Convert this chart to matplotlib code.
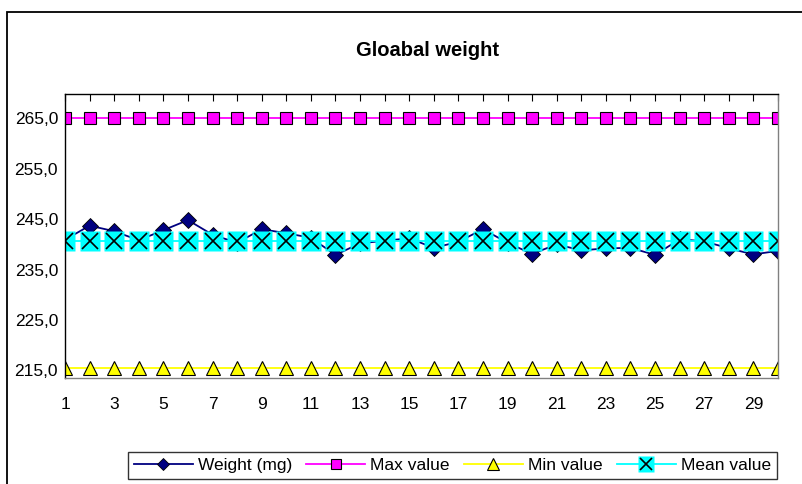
import matplotlib
matplotlib.use("Agg")
import matplotlib.pyplot as plt
from matplotlib.patches import Rectangle
from matplotlib.legend_handler import HandlerTuple

plt.rcParams["font.family"] = ["Liberation Sans", "DejaVu Sans"]

# data
samples = list(range(1, 31))
weight = [240.9, 243.7, 242.6, 240.8, 242.8, 244.8, 241.9, 240.3, 243.0, 242.2,
          241.3, 237.9, 240.2, 240.7, 241.2, 239.3, 240.5, 243.0, 240.3, 238.1,
          240.0, 238.8, 239.2, 239.3, 237.9, 241.0, 240.6, 239.2, 238.0, 238.7]
max_value = [265.0] * len(samples)
min_value = [215.5] * len(samples)
mean_value = [240.6] * len(samples)
y_ticks = [215, 225, 235, 245, 255, 265]
x_labels = [str(s) if s % 2 == 1 else "" for s in samples]

W, H = 802, 484
fig = plt.figure(figsize=(W / 100, H / 100), dpi=100)

# outer chart frame (runs off the right and bottom edges)
fig.patches.append(Rectangle((7 / W, -0.1), 1.0, 1 - 12 / H + 0.1,
                             transform=fig.transFigure, fill=False,
                             ec="black", lw=1.3))

fig.text(428 / W, 1 - 50 / H, "Gloabal weight", ha="center", va="center",
         fontsize=14.5, fontweight="bold")

ax = fig.add_axes([65 / W, 1 - 378 / H, 713 / W, 284 / H])

l_w, = ax.plot(samples, weight, color="#000080", lw=1.3, marker="D",
               ms=8, mfc="#000080", mec="black", mew=0.6)
l_max, = ax.plot(samples, max_value, color="#FF00FF", lw=1.3, marker="s",
                 ms=8.5, mfc="#FF00FF", mec="black", mew=0.8)
l_min, = ax.plot(samples, min_value, color="#FFFF00", lw=1.3, marker="^",
                 ms=10, mfc="#FFFF00", mec="black", mew=0.8)
l_mean, = ax.plot(samples, mean_value, color="#00FFFF", lw=1.3, marker="s",
                  ms=14, mfc="#00FFFF", mec="none")
l_mean_x, = ax.plot(samples, mean_value, ls="none", marker="x", ms=11,
                    mec="black", mew=1.2)

ax.set_xlim(1, 30)
ax.set_ylim(213.5, 269.8)
ax.set_xticks(samples)
ax.set_xticklabels(x_labels)
ax.set_yticks(y_ticks)
ax.set_yticklabels([f"{v:.1f}".replace(".", ",") for v in y_ticks])

ax.tick_params(axis="x", top=True, bottom=False, direction="in", length=5,
               width=0.8, labelsize=12.5, pad=14)
ax.tick_params(axis="y", length=0, labelsize=12.5, pad=5)

for side in ["top", "left"]:
    ax.spines[side].set_color("black")
    ax.spines[side].set_linewidth(1.0)
for side in ["bottom", "right"]:
    ax.spines[side].set_color("#808080")
    ax.spines[side].set_linewidth(1.0)

leg = fig.legend([l_w, l_max, l_min, (l_mean, l_mean_x)],
                 ["Weight (mg)", "Max value", "Min value", "Mean value"],
                 handler_map={tuple: HandlerTuple(ndivide=1)},
                 loc="upper right", bbox_to_anchor=(777 / W, 1 - 452 / H),
                 ncol=4, numpoints=1, markerscale=0.8, fontsize=12.5,
                 frameon=True, fancybox=False, edgecolor="black",
                 handlelength=3.4, handletextpad=0.3, columnspacing=0.8,
                 borderpad=0.35, borderaxespad=0)
leg.get_frame().set_linewidth(1.0)

fig.savefig("out.png", dpi=100)
